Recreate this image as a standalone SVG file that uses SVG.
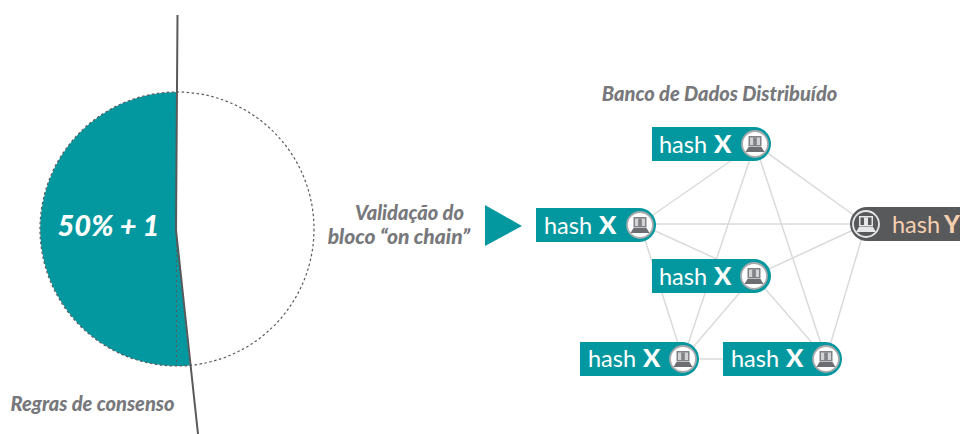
<svg xmlns="http://www.w3.org/2000/svg" width="960" height="434" viewBox="0 0 960 434">
<style>
text{font-family:Lato,"Open Sans","Liberation Sans",sans-serif}
.cap{font-size:20px;font-weight:900;font-style:italic;fill:#77787b}
.h{font-size:23.500px;fill:#fff}
.hb{font-size:25.500px;font-weight:900}
.y{fill:#f6cfb0}
.edge{stroke:#d9dbdb;stroke-width:1.500;fill:none}
.teal{fill:#03989f}
.dark{fill:#58595b}
</style>
<defs>
<g id="laptop">
<circle r="13" fill="#fff" stroke="#a7a9ac" stroke-width="1.800"/>
<rect x="-6.500" y="-8" width="13" height="10.500" fill="#808285"/>
<rect x="-5" y="-6.500" width="10" height="7.500" fill="#d1d3d4"/>
<rect x="-1.800" y="-6.500" width="3.600" height="7.500" fill="#808285"/>
<path d="M-6.500 3H6.500L9.500 8H-9.500Z" fill="#6d6e71"/>
</g>
<g id="laptopDark">
<circle r="13" fill="#58595b" stroke="#e6e7e8" stroke-width="1.800"/>
<rect x="-7" y="-8" width="14" height="10.500" fill="#e6e7e8"/>
<rect x="-5.500" y="-6.500" width="11" height="7.500" fill="#58595b"/>
<rect x="-2" y="-6.500" width="4" height="7.500" fill="#e6e7e8"/>
<path d="M-7 3H7L10 8H-10Z" fill="#e6e7e8"/>
</g>
</defs>
<rect width="960" height="434" fill="#fff"/>
<g id="consensus-circle">
<path d="M177 92A137 137 0 1 0 190 365.400L176 230Z" class="teal"/>
<circle cx="177" cy="229" r="137" fill="none" stroke="#58595b" stroke-width="1.200" stroke-dasharray="2.500 2.500"/>
<line x1="176.500" y1="230" x2="176.500" y2="366" stroke="#58595b" stroke-width="1" stroke-dasharray="2 3"/>
<path d="M177.500 15L176 230L198 434" fill="none" stroke="#58595b" stroke-width="2"/>
<text x="108.500" y="236" text-anchor="middle" font-size="29" font-weight="900" font-style="italic" fill="#fff">50% + 1</text>
<text x="92.500" y="411" text-anchor="middle" class="cap">Regras de consenso</text>
</g>
<g id="validation">
<text x="464" y="220" text-anchor="end" class="cap">Validação do</text>
<text x="470" y="244" text-anchor="end" class="cap" style="font-size:21px">bloco “on chain”</text>
<path d="M485 205L522 226L485 246Z" class="teal"/>
</g>
<text id="db-title" x="719.500" y="101" text-anchor="middle" class="cap">Banco de Dados Distribuído</text>
<g id="connectors">
<path class="edge" d="M755 144L640 224M755 144L683 359M755 144L826 359M755 144L866 224M640 224H866M640 224L754 276M640 224L683 359M866 224L754 276M866 224L826 359M754 276L683 359M754 276L826 359M683 359H826"/>
</g>
<g id="node-top">
<path d="M652 127H754A17 17 0 0 1 754 161H652Z" class="teal"/>
<text x="659" y="153" class="h">hash</text><text x="714" y="153" class="h hb">X</text>
<use href="#laptop" x="755" y="144"/>
</g>
<g id="node-left">
<path d="M536 208H639A17 17 0 0 1 639 242H536Z" class="teal"/>
<text x="544" y="234" class="h">hash</text><text x="599" y="234" class="h hb">X</text>
<use href="#laptop" x="640" y="225"/>
</g>
<g id="node-center">
<path d="M652 259H754A17 17 0 0 1 754 293H652Z" class="teal"/>
<text x="659" y="285" class="h">hash</text><text x="714" y="285" class="h hb">X</text>
<use href="#laptop" x="754" y="276"/>
</g>
<g id="node-bottom-left">
<path d="M580 342H682A17 17 0 0 1 682 376H580Z" class="teal"/>
<text x="588" y="367" class="h">hash</text><text x="643" y="367" class="h hb">X</text>
<use href="#laptop" x="683" y="359"/>
</g>
<g id="node-bottom-right">
<path d="M723 342H825A17 17 0 0 1 825 376H723Z" class="teal"/>
<text x="731" y="367" class="h">hash</text><text x="786" y="367" class="h hb">X</text>
<use href="#laptop" x="826" y="359"/>
</g>
<g id="node-outlier">
<path d="M867 207H960V241H867A17 17 0 0 1 867 207Z" class="dark"/>
<text x="892" y="233" class="h y">hash</text><text x="944" y="233" class="h y hb" style="font-size:24px">Y</text>
<use href="#laptopDark" x="866" y="224"/>
</g>
</svg>
